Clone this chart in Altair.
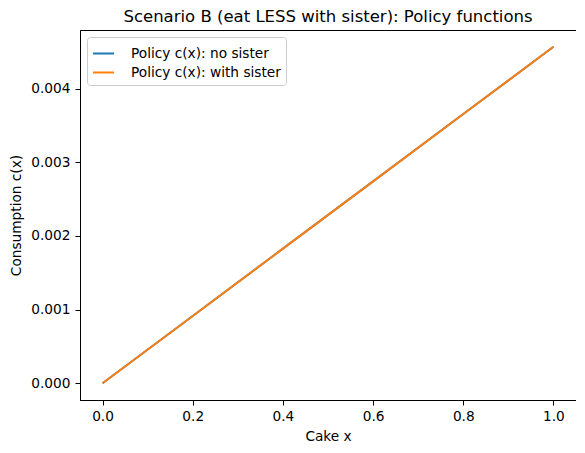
import altair as alt
import pandas as pd

cake = [0.0, 0.2, 0.4, 0.6, 0.8, 1.0]
c_no_sister = [0.0, 0.000914, 0.001828, 0.002742, 0.003656, 0.00457]
c_with_sister = [0.0, 0.000914, 0.001828, 0.002742, 0.003656, 0.00457]
series = ["Policy c(x): no sister", "Policy c(x): with sister"]
colors = ["#1f77b4", "#ff7f0e"]

rows = []
for xv, yv in zip(cake, c_no_sister):
    rows.append({"x": xv, "c": yv, "series": series[0], "o": 0})
for xv, yv in zip(cake, c_with_sister):
    rows.append({"x": xv, "c": yv, "series": series[1], "o": 1})
df = pd.DataFrame(rows)

FONT = "DejaVu Sans"
FS = 13.7

axis_common = dict(grid=False, tickSize=5, labelFontSize=FS, titleFontSize=FS,
                   titleFontWeight="normal", labelColor="black", titleColor="black",
                   domainColor="black", tickColor="black", labelFlush=False)

chart = alt.Chart(df).mark_line(strokeWidth=1.9, clip=True).encode(
    x=alt.X("x:Q", title="Cake x",
            scale=alt.Scale(domain=[-0.05, 1.05], nice=False, zero=False),
            axis=alt.Axis(values=[0, 0.2, 0.4, 0.6, 0.8, 1.0], format=".1f",
                          labelPadding=4, titlePadding=7, **axis_common)),
    y=alt.Y("c:Q", title="Consumption c(x)",
            scale=alt.Scale(domain=[-0.0002285, 0.0047985], nice=False, zero=False),
            axis=alt.Axis(values=[0, 0.001, 0.002, 0.003, 0.004], format=".3f",
                          labelPadding=5, titlePadding=7, **axis_common)),
    color=alt.Color("series:N", sort=series,
                    scale=alt.Scale(domain=series, range=colors),
                    legend=alt.Legend(title=None, orient="none", legendX=7, legendY=7,
                                      symbolType="stroke", symbolSize=441,
                                      symbolStrokeWidth=2, labelFontSize=FS,
                                      labelColor="black", rowPadding=0,
                                      padding=5, strokeColor="#cccccc",
                                      fillColor="white", cornerRadius=3,
                                      labelOffset=16)),
    order=alt.Order("o:Q"),
).properties(
    width=496,
    height=370,
    title=alt.Title("Scenario B (eat LESS with sister): Policy functions",
                    fontSize=16.5, fontWeight="normal", color="black", offset=5),
    padding={"left": 72, "top": 22, "right": 0, "bottom": 44},
    autosize=alt.AutoSizeParams(type="none"),
).configure(
    font=FONT
).configure_view(
    stroke="black", strokeWidth=1
)

chart.save("out.html", embed_options={"renderer": "svg", "actions": False})
